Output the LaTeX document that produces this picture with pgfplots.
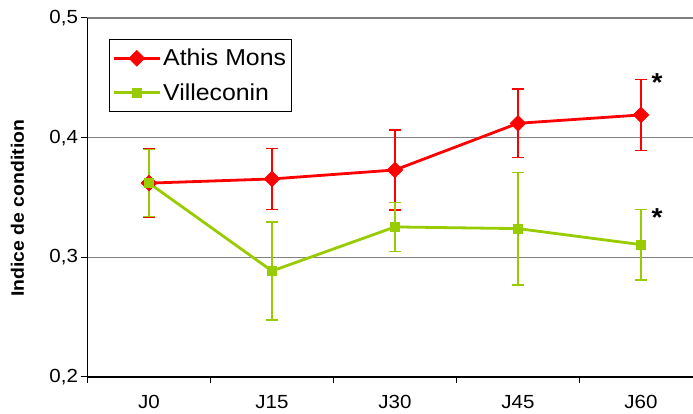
\documentclass[border=0pt]{standalone}
\usepackage{fontspec}
\setmainfont[FakeStretch=1.08]{Liberation Sans}
\usepackage{pgfplots}
\pgfplotsset{compat=1.18}
\definecolor{athis}{HTML}{FF0000}
\definecolor{ville}{HTML}{99CC00}
\definecolor{gridgray}{HTML}{808080}

\begin{document}
\begin{tikzpicture}
  \begin{axis}[
      name=ax,
      scale only axis,
      width=605.5pt,
      height=359pt,
      xmin=-0.5, xmax=4.423,
      ymin=0.2, ymax=0.5,
      axis x line=bottom,
      axis y line=left,
      axis line style={-, line width=1.1pt, black},
      xtick={-0.5,0.5,1.5,2.5,3.5},
      xticklabels={},
      extra x ticks={0,1,2,3,4},
      extra x tick labels={J0,J15,J30,J45,J60},
      extra x tick style={major tick length=0pt, grid=none},
      ytick={0.2,0.3,0.4,0.5},
      ymajorgrids,
      grid style={gridgray, line width=1.3pt},
      tick align=outside,
      major tick length=6pt,
      tick style={black, line width=1pt},
      xticklabel style={font=\fontsize{19}{22}\selectfont, yshift=-15pt},
      yticklabel style={font=\fontsize{19}{22}\selectfont},
      yticklabel={\pgfmathprintnumber[fixed, precision=1, use comma]{\tick}},
      /pgf/number format/assume math mode=true,
      ylabel={\textbf{Indice de condition}},
      ylabel style={font=\fontsize{18}{21}\selectfont, at={(rel axis cs:-0.1049,0.47)}, rotate=0, anchor=base},
      legend style={at={(rel axis cs:0.0355,0.942)}, anchor=north west,
        draw=black, line width=0.8pt, font=\fontsize{23}{26}\selectfont,
        inner xsep=3pt, inner ysep=8pt, row sep=12pt},
      legend cell align=left,
      legend image code/.code={
        \draw[mark repeat=2, mark phase=2] plot coordinates {(0pt,0pt) (23pt,0pt) (46pt,0pt)};
      },
      error bars/y dir=both,
      error bars/y explicit,
    ]
    \addplot[athis, line width=2.8pt, mark=square*, mark size=5.6pt,
      mark options={rotate=45, line width=0.5pt},
      error bars/error bar style={athis, line width=1.4pt},
      error bars/error mark options={athis, line width=1.4pt, mark size=6pt, rotate=90}]
      coordinates {
        (0,0.362) +- (0,0.0285)
        (1,0.3655) +- (0,0.0255)
        (2,0.373) +- (0,0.0335)
        (3,0.412) +- (0,0.0285)
        (4,0.419) +- (0,0.0295)
      };
    \addlegendentry{Athis Mons}
    \addplot[ville, line width=2.8pt, mark=square*, mark size=4.5pt,
      mark options={line width=0.5pt},
      error bars/error bar style={ville, line width=1.4pt},
      error bars/error mark options={ville, line width=1.4pt, mark size=6pt, rotate=90}]
      coordinates {
        (0,0.362) +- (0,0.028)
        (1,0.2886) +- (0,0.041)
        (2,0.3254) +- (0,0.0203)
        (3,0.324) +- (0,0.047)
        (4,0.3106) +- (0,0.0296)
      };
    \addlegendentry{Villeconin}
    \node[font=\fontsize{26}{28}\selectfont\bfseries, anchor=base, xshift=16pt, yshift=-14pt] at (axis cs:4,0.4504) {*};
    \node[font=\fontsize{26}{28}\selectfont\bfseries, anchor=base, xshift=16pt, yshift=-14pt] at (axis cs:4,0.3377) {*};
    \coordinate (bl) at (rel axis cs:0,0);
  \end{axis}
  \pgfresetboundingbox
  \path (bl) ++(-87.5pt,-37pt) rectangle ++(693pt,414pt);
\end{tikzpicture}
\end{document}
